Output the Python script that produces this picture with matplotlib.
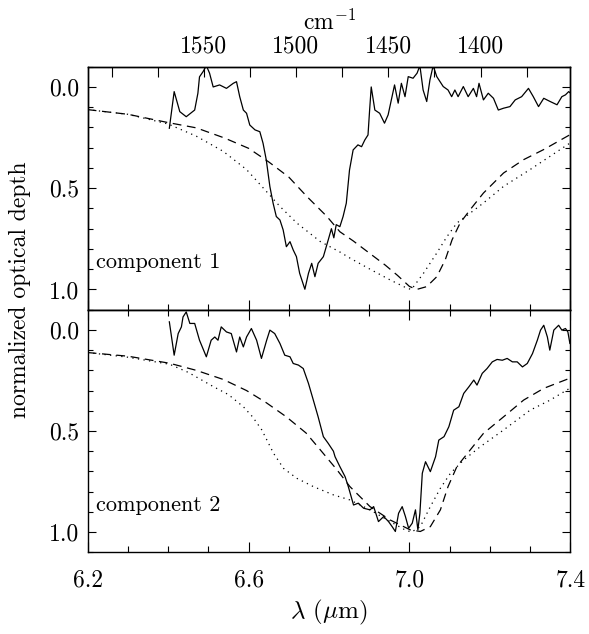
import numpy as np
import matplotlib
matplotlib.use("Agg")
import matplotlib.pyplot as plt
from matplotlib.ticker import MultipleLocator, FixedLocator, FixedFormatter

plt.rcParams['font.family'] = 'serif'
plt.rcParams['font.serif'] = ['cmr10']
plt.rcParams['mathtext.fontset'] = 'cm'
plt.rcParams['axes.formatter.use_mathtext'] = True

# ---------------- data ----------------
# top panel (component 1) observed profile
lam_obs1 = [6.403, 6.415, 6.429, 6.445, 6.466, 6.474, 6.478, 6.487, 6.495, 6.503, 6.512, 6.528,
            6.545, 6.562, 6.570, 6.578, 6.587, 6.595, 6.603, 6.616, 6.628, 6.636, 6.644, 6.653,
            6.661, 6.669, 6.678, 6.686, 6.694, 6.703, 6.711, 6.719, 6.727, 6.740, 6.749, 6.757,
            6.765, 6.773, 6.786, 6.798, 6.806, 6.812, 6.818, 6.827, 6.835, 6.843, 6.851, 6.860,
            6.872, 6.881, 6.889, 6.897, 6.901, 6.905, 6.914, 6.926, 6.938, 6.947, 6.955, 6.963,
            6.972, 6.980, 6.989, 6.997, 7.009, 7.019, 7.026, 7.034, 7.043, 7.051, 7.059, 7.068,
            7.084, 7.096, 7.105, 7.113, 7.121, 7.134, 7.146, 7.159, 7.167, 7.173, 7.184, 7.196,
            7.209, 7.221, 7.234, 7.250, 7.263, 7.279, 7.296, 7.308, 7.321, 7.334, 7.350, 7.367,
            7.379, 7.388, 7.396, 7.400]
tau_obs1 = [0.204, 0.023, 0.122, 0.147, 0.114, 0.031, -0.050, -0.076, -0.105, -0.068, 0.000, -0.010,
            0.007, -0.018, -0.026, 0.048, 0.114, 0.130, 0.188, 0.212, 0.221, 0.278, 0.360, 0.492,
            0.574, 0.640, 0.657, 0.706, 0.789, 0.764, 0.805, 0.838, 0.920, 0.999, 0.920, 0.871,
            0.937, 0.871, 0.838, 0.756, 0.700, 0.745, 0.680, 0.690, 0.640, 0.574, 0.410, 0.311,
            0.286, 0.295, 0.262, 0.237, 0.114, 0.000, 0.114, 0.130, 0.179, 0.138, 0.064, -0.010,
            0.080, -0.018, 0.048, -0.051, -0.043, -0.068, -0.105, 0.015, 0.072, -0.035, -0.105, -0.051,
            -0.002, 0.015, 0.048, 0.015, 0.048, -0.002, 0.048, 0.007, 0.048, -0.018, 0.064, 0.031,
            0.056, 0.114, 0.105, 0.097, 0.064, 0.048, 0.007, 0.048, 0.097, 0.056, 0.072, 0.088,
            0.048, 0.039, 0.023, 0.030]

# top panel model curves
lam_dash1 = [6.20, 6.30, 6.40, 6.47, 6.54, 6.60, 6.65, 6.70, 6.745, 6.795, 6.827, 6.86, 6.90,
             6.94, 6.97, 7.00, 7.018, 7.043, 7.068, 7.089, 7.106, 7.126, 7.151, 7.184, 7.234,
             7.284, 7.334, 7.40]
tau_dash1 = [0.112, 0.135, 0.176, 0.202, 0.252, 0.303, 0.370, 0.445, 0.541, 0.640, 0.715, 0.760, 0.820,
             0.880, 0.930, 0.985, 1.000, 0.986, 0.937, 0.854, 0.755, 0.672, 0.606, 0.524, 0.425,
             0.359, 0.309, 0.235]
lam_dot1 = [6.20, 6.30, 6.40, 6.47, 6.537, 6.595, 6.637, 6.678, 6.72, 6.778, 6.827, 6.852, 6.902,
            6.952, 6.994, 7.005, 7.035, 7.068, 7.093, 7.118, 7.151, 7.184, 7.234, 7.30, 7.35, 7.40]
tau_dot1 = [0.112, 0.135, 0.183, 0.243, 0.318, 0.408, 0.500, 0.590, 0.672, 0.763, 0.815, 0.845, 0.900,
            0.953, 0.994, 1.000, 0.920, 0.820, 0.740, 0.672, 0.623, 0.573, 0.491, 0.408, 0.342, 0.276]

# bottom panel (component 2) observed profile
lam_obs2 = [6.403, 6.415, 6.425, 6.433, 6.437, 6.445, 6.454, 6.466, 6.478, 6.495, 6.507, 6.516,
            6.524, 6.532, 6.545, 6.557, 6.570, 6.578, 6.587, 6.595, 6.607, 6.620, 6.632, 6.645,
            6.653, 6.665, 6.678, 6.690, 6.703, 6.711, 6.724, 6.736, 6.749, 6.761, 6.773, 6.786,
            6.798, 6.811, 6.815, 6.827, 6.840, 6.848, 6.861, 6.873, 6.886, 6.902, 6.911, 6.923,
            6.936, 6.948, 6.957, 6.965, 6.973, 6.982, 6.990, 6.998, 7.007, 7.015, 7.021, 7.026,
            7.032, 7.040, 7.052, 7.065, 7.073, 7.086, 7.098, 7.110, 7.123, 7.135, 7.148, 7.160,
            7.168, 7.181, 7.193, 7.206, 7.218, 7.231, 7.243, 7.256, 7.268, 7.281, 7.293, 7.306,
            7.318, 7.326, 7.334, 7.343, 7.349, 7.359, 7.371, 7.379, 7.388, 7.394, 7.399]
tau_obs2 = [-0.040, 0.125, 0.018, -0.015, -0.064, -0.089, -0.032, -0.032, 0.051, 0.133, 0.051, 0.035,
            0.051, -0.015, 0.010, 0.018, 0.109, 0.035, 0.084, 0.035, -0.007, 0.051, 0.141, 0.051,
            0.001, 0.018, 0.067, 0.125, 0.133, 0.166, 0.174, 0.191, 0.265, 0.347, 0.430, 0.528,
            0.561, 0.600, 0.627, 0.676, 0.726, 0.775, 0.866, 0.857, 0.882, 0.890, 0.874, 0.948,
            0.923, 0.948, 0.973, 0.997, 0.907, 0.874, 0.923, 0.981, 0.956, 0.890, 0.989, 0.907,
            0.709, 0.652, 0.701, 0.627, 0.545, 0.528, 0.479, 0.397, 0.380, 0.314, 0.281, 0.248,
            0.273, 0.215, 0.191, 0.158, 0.146, 0.150, 0.141, 0.158, 0.158, 0.183, 0.166, 0.117,
            0.051, 0.001, -0.023, 0.035, 0.100, 0.001, -0.023, 0.001, -0.007, 0.010, 0.067]

# bottom panel model curves
lam_dash2 = [6.20, 6.30, 6.404, 6.47, 6.537, 6.595, 6.644, 6.694, 6.743, 6.777, 6.819, 6.852, 6.902,
             6.952, 7.002, 7.027, 7.052, 7.077, 7.096, 7.118, 7.151, 7.184, 7.234, 7.284, 7.334, 7.40]
tau_dash2 = [0.112, 0.130, 0.165, 0.200, 0.245, 0.300, 0.360, 0.430, 0.510, 0.590, 0.690, 0.775, 0.874,
             0.940, 0.989, 0.997, 0.973, 0.890, 0.775, 0.676, 0.594, 0.512, 0.430, 0.347, 0.289, 0.238]
lam_dot2 = [6.20, 6.30, 6.404, 6.45, 6.512, 6.55, 6.587, 6.61, 6.633, 6.662, 6.687, 6.72, 6.761,
            6.811, 6.852, 6.902, 6.952, 6.99, 7.005, 7.027, 7.052, 7.077, 7.102, 7.135, 7.176,
            7.234, 7.30, 7.35, 7.40]
tau_dot2 = [0.112, 0.135, 0.170, 0.210, 0.280, 0.320, 0.380, 0.430, 0.495, 0.610, 0.685, 0.734, 0.775,
            0.816, 0.841, 0.890, 0.948, 0.990, 1.000, 0.973, 0.874, 0.783, 0.709, 0.643, 0.578,
            0.495, 0.397, 0.347, 0.287]

panel_labels = ["component 1", "component 2"]
xticks_major = [6.2, 6.6, 7.0, 7.4]
xticklabels = ["6.2", "6.6", "7.0", "7.4"]
yticks_major = [0.0, 0.5, 1.0]
yticklabels = ["0.0", "0.5", "1.0"]
wn_ticks = [1600, 1575, 1550, 1525, 1500, 1475, 1450, 1425, 1400, 1375]
wn_labels = ["", "", "1550", "", "1500", "", "1450", "", "1400", ""]

# ---------------- figure ----------------
W, H = 589, 634
fig = plt.figure(figsize=(W / 100, H / 100), dpi=100)
left, right = 87.7, 570.3
top, mid, bottom = 66.7, 309.7, 552.3
ax1 = fig.add_axes([left / W, 1 - mid / H, (right - left) / W, (mid - top) / H])
ax2 = fig.add_axes([left / W, 1 - bottom / H, (right - left) / W, (bottom - mid) / H])

TFS = 17
for ax, (lo, to, ld, td, lp, tp), lab in [
        (ax1, (lam_obs1, tau_obs1, lam_dash1, tau_dash1, lam_dot1, tau_dot1), panel_labels[0]),
        (ax2, (lam_obs2, tau_obs2, lam_dash2, tau_dash2, lam_dot2, tau_dot2), panel_labels[1])]:
    ax.plot(lo, to, color='black', lw=0.9)
    ax.plot(ld, td, color='black', lw=0.9, linestyle=(0, (7, 4.5)))
    ax.plot(lp, tp, color='black', lw=0.9, linestyle=(0, (1, 3.5)))
    ax.set_xlim(6.2, 7.4)
    ax.set_ylim(1.1, -0.1)
    ax.xaxis.set_major_locator(FixedLocator(xticks_major))
    ax.xaxis.set_minor_locator(MultipleLocator(0.1))
    ax.yaxis.set_major_locator(FixedLocator(yticks_major))
    ax.yaxis.set_major_formatter(FixedFormatter(yticklabels))
    ax.yaxis.set_minor_locator(MultipleLocator(0.1))
    ax.tick_params(axis='y', which='major', direction='in', length=6, width=0.8,
                   left=True, right=True, labelsize=TFS, pad=6)
    ax.tick_params(axis='y', which='minor', direction='in', length=3.5, width=0.8,
                   left=True, right=True)
    ax.tick_params(axis='x', which='major', direction='in', length=7.5, width=0.8,
                   labelsize=TFS, pad=12)
    ax.tick_params(axis='x', which='minor', direction='in', length=4.3, width=0.8)
    for s in ax.spines.values():
        s.set_linewidth(1.0)
    ax.text(6.2206, 0.895, lab, fontsize=16, va='baseline', ha='left')

ax1.tick_params(axis='x', which='both', top=False, bottom=True, labelbottom=False)
ax2.tick_params(axis='x', which='both', top=True, bottom=True, labelbottom=True)
ax2.xaxis.set_major_formatter(FixedFormatter(xticklabels))

# top axis: wavenumber (cm^-1), linear between the end wavelengths
ax1t = ax1.twiny()
ax1t.set_xlim(10000 / 6.2, 10000 / 7.4)
ax1t.xaxis.set_major_locator(FixedLocator(wn_ticks))
ax1t.xaxis.set_major_formatter(FixedFormatter(wn_labels))
ax1t.tick_params(axis='x', which='major', direction='in', length=7, width=0.8,
                 top=True, bottom=False, labelsize=TFS, pad=6.5)
for s in ax1t.spines.values():
    s.set_linewidth(1.0)

fig.text(329 / W, 1 - 30 / H, r"cm$^{-1}$", ha='center', va='baseline', fontsize=17)
fig.text(329 / W, 1 - 618 / H, r"$\lambda$ ($\mu$m)", ha='center', va='baseline', fontsize=18)
fig.text(20 / W, 1 - 290 / H, "normalized optical depth", rotation=90,
         ha='center', va='center', fontsize=17)

fig.savefig("out.png", dpi=100)
